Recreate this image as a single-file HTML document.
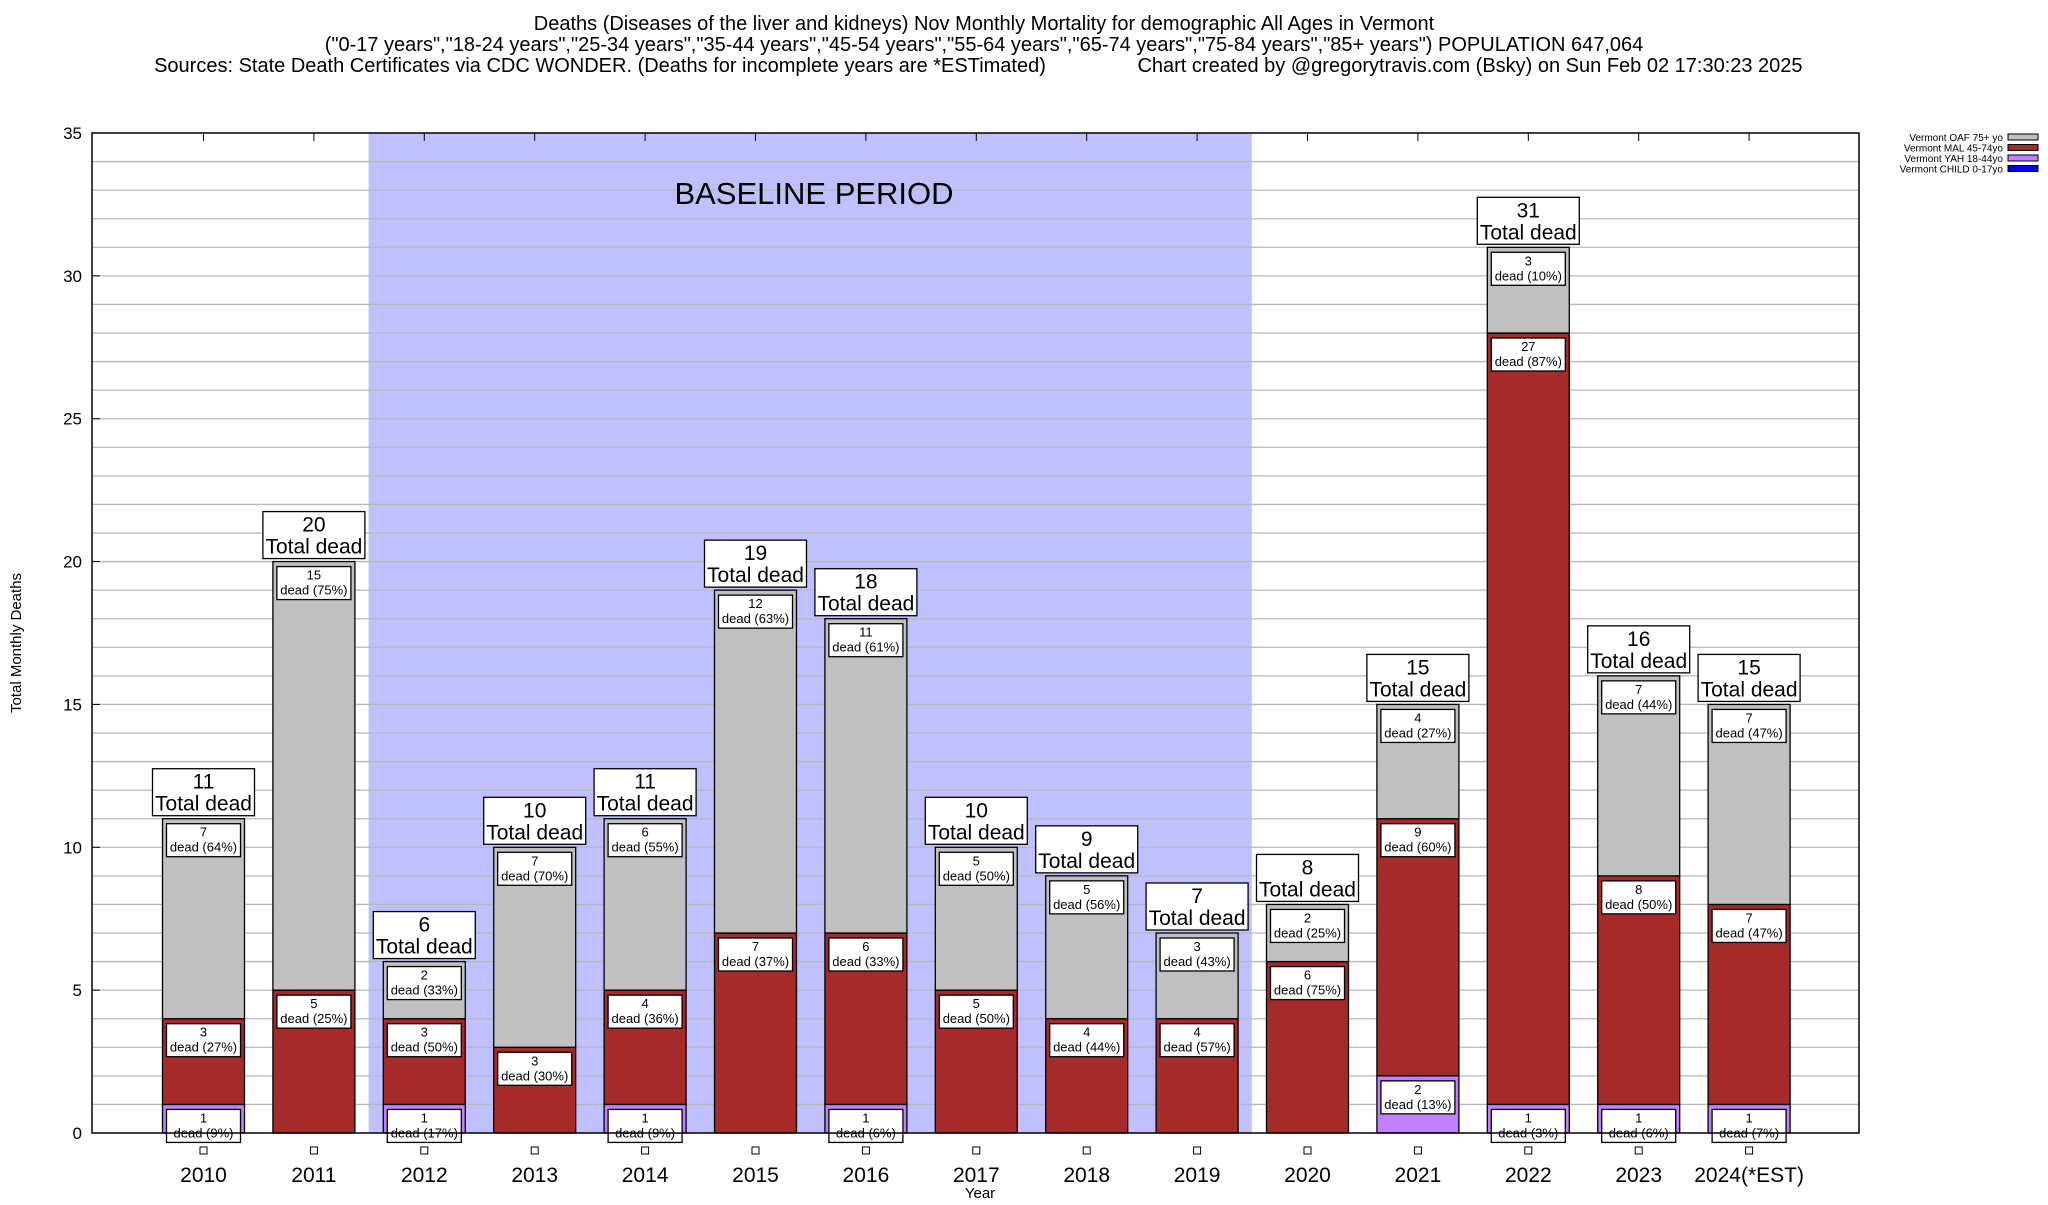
<!DOCTYPE html>
<html><head><meta charset="utf-8"><style>
body{margin:0;background:#fff;width:2048px;height:1200px;overflow:hidden;font-family:"Liberation Sans",sans-serif}
</style></head><body>
<svg id="chart" width="2048" height="1200" xmlns="http://www.w3.org/2000/svg" font-family="Liberation Sans, sans-serif">
<g font-size="20" text-anchor="middle">
<text x="984" y="30">Deaths (Diseases of the liver and kidneys) Nov Monthly Mortality for demographic All Ages in Vermont</text>
<text x="984" y="51">("0-17 years","18-24 years","25-34 years","35-44 years","45-54 years","55-64 years","65-74 years","75-84 years","85+ years") POPULATION 647,064</text>
<text x="600" y="72">Sources: State Death Certificates via CDC WONDER. (Deaths for incomplete years are *ESTimated)</text>
<text x="1470" y="72">Chart created by @gregorytravis.com (Bsky) on Sun Feb 02 17:30:23 2025</text>
</g>
<g id="plot"></g>
</svg>
<script>
const years=["2010","2011","2012","2013","2014","2015","2016","2017","2018","2019","2020","2021","2022","2023","2024(*EST)"];
const child=[0,0,0,0,0,0,0,0,0,0,0,0,0,0,0];
const yah=[1,0,1,0,1,0,1,0,0,0,0,2,1,1,1];
const mal=[3,5,3,3,4,7,6,5,4,4,6,9,27,8,7];
const oaf=[7,15,2,7,6,12,11,5,5,3,2,4,3,7,7];
const yTicks=[0,5,10,15,20,25,30,35];
const baselineStart=2, baselineEnd=9;

const NS="http://www.w3.org/2000/svg";
const L=92,R=1859,T=133,B=1133,YMAX=35;
const x0=203.5,step=110.4,bw=82;
function xs(i){return x0+i*step;}
function ys(v){return B-(B-T)*v/YMAX;}
const g=document.getElementById('plot');
function el(tag,attrs,parent){const e=document.createElementNS(NS,tag);for(const k in attrs)e.setAttribute(k,attrs[k]);(parent||g).appendChild(e);return e;}

const sh=el('rect',{x:xs(baselineStart)-step/2-0.5,y:T,width:(baselineEnd-baselineStart+1)*step,height:B-T,fill:'#c0c0ff'});



for(let v=1;v<YMAX;v++){
  const ln=el('line',{x1:L,x2:R,y1:ys(v),y2:ys(v),stroke:'#b8b8b8','stroke-width':1.3});
  
  
}
const bt=el('text',{x:814,y:204,'font-size':31,'text-anchor':'middle',fill:'#000'});bt.textContent='BASELINE PERIOD';


yTicks.forEach(v=>{
  const t=el('text',{x:L-10,y:ys(v)+6,'font-size':17,'text-anchor':'end'});t.textContent=v;
  
  
  el('line',{x1:L,x2:L+8,y1:ys(v),y2:ys(v),stroke:'#000'});
});
const yt=el('text',{x:0,y:0,'font-size':15,'text-anchor':'middle',transform:'translate(21,643) rotate(-90)'});yt.textContent='Total Monthly Deaths';



const series=[{d:child,c:'#0000ff'},{d:yah,c:'#c080ff'},{d:mal,c:'#a52a2a'},{d:oaf,c:'#c0c0c0'}];
years.forEach((yr,i)=>{
  const cx=xs(i);
  const total=child[i]+yah[i]+mal[i]+oaf[i];
  let base=0;
  const labels=[];
  series.forEach(s=>{
    const v=s.d[i]; if(!v) return;
    const r=el('rect',{x:cx-bw/2,y:ys(base+v),width:bw,height:ys(base)-ys(base+v),fill:s.c,stroke:'#000','stroke-width':1.3});
    
    
    labels.push([base+v,v]);
    base+=v;
  });
  labels.forEach(([top,v])=>{
    const yy=ys(top)+5;
    const bx=el('rect',{x:cx-37,y:yy,width:74,height:33,fill:'#fff',stroke:'#000','stroke-width':1.3});
    
    
    const t1=el('text',{x:cx,y:yy+13,'font-size':13,'text-anchor':'middle'});t1.textContent=v;
    const t2=el('text',{x:cx,y:yy+28,'font-size':13,'text-anchor':'middle'});t2.textContent='dead ('+Math.round(v/total*100)+'%)';
    
    
  });
  const ty=ys(total)-50;
  const tb=el('rect',{x:cx-51,y:ty,width:102,height:47,fill:'#fff',stroke:'#000','stroke-width':1.3});
  
  
  const a=el('text',{x:cx,y:ty+20,'font-size':21,'text-anchor':'middle'});a.textContent=total;
  const b=el('text',{x:cx,y:ty+42,'font-size':21,'text-anchor':'middle'});b.textContent='Total dead';
  
  
  const sq=el('rect',{x:cx-3.5,y:1147,width:7,height:7,fill:'#fff',stroke:'#000','stroke-width':1});
  
  
  const xl=el('text',{x:cx,y:1182,'font-size':21,'text-anchor':'middle'});xl.textContent=yr;
  
  
  el('line',{x1:cx,x2:cx,y1:T,y2:T+8,stroke:'#000'});
});
const xt=el('text',{x:980,y:1198,'font-size':15,'text-anchor':'middle'});xt.textContent='Year';


const fr=el('rect',{x:L,y:T,width:R-L,height:B-T,fill:'none',stroke:'#000','stroke-width':1.5});



const leg=[['Vermont OAF 75+ yo','#c0c0c0'],['Vermont MAL 45-74yo','#a52a2a'],['Vermont YAH 18-44yo','#c080ff'],['Vermont CHILD 0-17yo','#0000ff']];
leg.forEach((l,k)=>{
  const y=138+k*10.5;
  const t=el('text',{x:2003,y:y+3,'font-size':10,'text-anchor':'end'});t.textContent=l[0];
  
  
  const r=el('rect',{x:2008,y:y-4,width:30,height:6,fill:l[1],stroke:'#000','stroke-width':1});
  
  
});
</script>
</body></html>
